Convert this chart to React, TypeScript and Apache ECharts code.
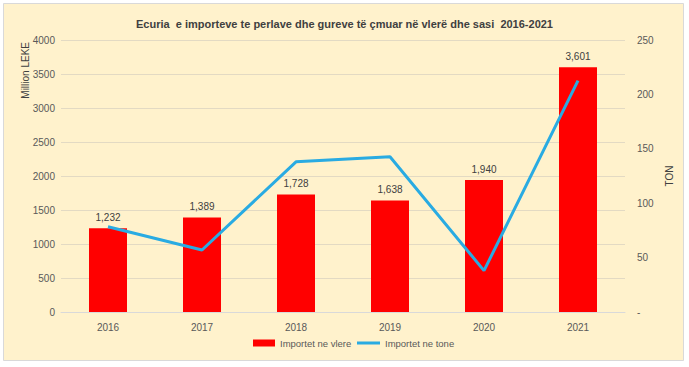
import React, { useEffect, useRef } from "react";
import * as echarts from "echarts";

const categories = ["2016", "2017", "2018", "2019", "2020", "2021"];
const valueSeries = [1232, 1389, 1728, 1638, 1940, 3601];
const tonSeries = [78.4, 57, 138, 142.7, 38, 212.6];
const titleText = "Ecuria  e importeve te perlave dhe gureve të çmuar në vlerë dhe sasi  2016-2021";
const leftAxisName = "Million LEKE";
const rightAxisName = "TON";
const seriesNames = ["Importet ne vlere", "Importet ne tone"];

const FONT = "'Liberation Sans', Arial, sans-serif";

export default function App() {
  const ref = useRef<HTMLDivElement>(null);
  useEffect(() => {
    if (!ref.current) return;
    const chart = echarts.init(ref.current, null, { renderer: "svg" });
    const legendText = { fontFamily: FONT, fontSize: 9.5, color: "#595959" };
    chart.setOption({
      animation: false,
      backgroundColor: "#ffffff",
      textStyle: { fontFamily: FONT },
      graphic: [
        {
          type: "rect",
          z: -10,
          silent: true,
          shape: { x: 3.5, y: 3.5, width: 680, height: 357 },
          style: { fill: "#FFF2CC", stroke: "#D9D9D9", lineWidth: 1 },
        },
        {
          type: "text",
          x: 25,
          y: 42,
          rotation: Math.PI / 2,
          style: {
            text: leftAxisName,
            textAlign: "right",
            textVerticalAlign: "middle",
            fill: "#404040",
            fontSize: 10,
            fontFamily: FONT,
          },
        },
      ],
      title: {
        text: titleText,
        left: "center",
        top: 13,
        textStyle: { fontFamily: FONT, fontSize: 11, fontWeight: "bold", color: "#404040" },
      },
      grid: { left: 61, right: 64, top: 40, bottom: 55 },
      legend: [
        {
          left: 248,
          bottom: 14,
          itemWidth: 22,
          itemHeight: 7,
          textStyle: legendText,
          data: [{ name: seriesNames[0], icon: "rect" }],
        },
        {
          left: 352,
          bottom: 14,
          itemWidth: 23,
          itemHeight: 3,
          textStyle: legendText,
          data: [{ name: seriesNames[1], icon: "rect" }],
        },
      ],
      xAxis: {
        type: "category",
        data: categories,
        axisLine: { show: true, lineStyle: { color: "#D9D9D9" } },
        axisTick: { show: false },
        axisLabel: { color: "#595959", fontSize: 10, fontFamily: FONT, margin: 10 },
      },
      yAxis: [
        {
          type: "value",
          min: 0,
          max: 4000,
          interval: 500,
          axisLine: { show: false },
          axisTick: { show: false },
          axisLabel: {
            color: "#595959",
            fontSize: 10,
            fontFamily: FONT,
            margin: 6,
            formatter: (v: number) => String(v),
          },
          splitLine: { lineStyle: { color: "#E3DAC3", width: 1 } },
        },
        {
          type: "value",
          min: 0,
          max: 250,
          interval: 50,
          name: rightAxisName,
          nameLocation: "middle",
          nameRotate: 90,
          nameGap: 33,
          nameTextStyle: { color: "#404040", fontSize: 10, fontFamily: FONT },
          axisLine: { show: false },
          axisTick: { show: false },
          axisLabel: {
            color: "#595959",
            fontSize: 10,
            fontFamily: FONT,
            margin: 12,
            formatter: (v: number) => (v === 0 ? "-" : String(v)),
          },
          splitLine: { show: false },
        },
      ],
      series: [
        {
          name: seriesNames[0],
          type: "bar",
          data: valueSeries,
          barWidth: 38,
          itemStyle: { color: "#FF0000" },
          label: {
            show: true,
            position: "top",
            distance: 6,
            color: "#404040",
            fontSize: 10,
            fontFamily: FONT,
            formatter: (p: any) => Number(p.value).toLocaleString("en-US"),
          },
        },
        {
          name: seriesNames[1],
          type: "line",
          yAxisIndex: 1,
          data: tonSeries,
          symbol: "none",
          lineStyle: { color: "#29ABE2", width: 3 },
          itemStyle: { color: "#29ABE2" },
        },
      ],
    });
    return () => chart.dispose();
  }, []);
  return (
    <div
      ref={ref}
      style={{ position: "absolute", left: 0, top: 0, width: 689, height: 367 }}
    />
  );
}
